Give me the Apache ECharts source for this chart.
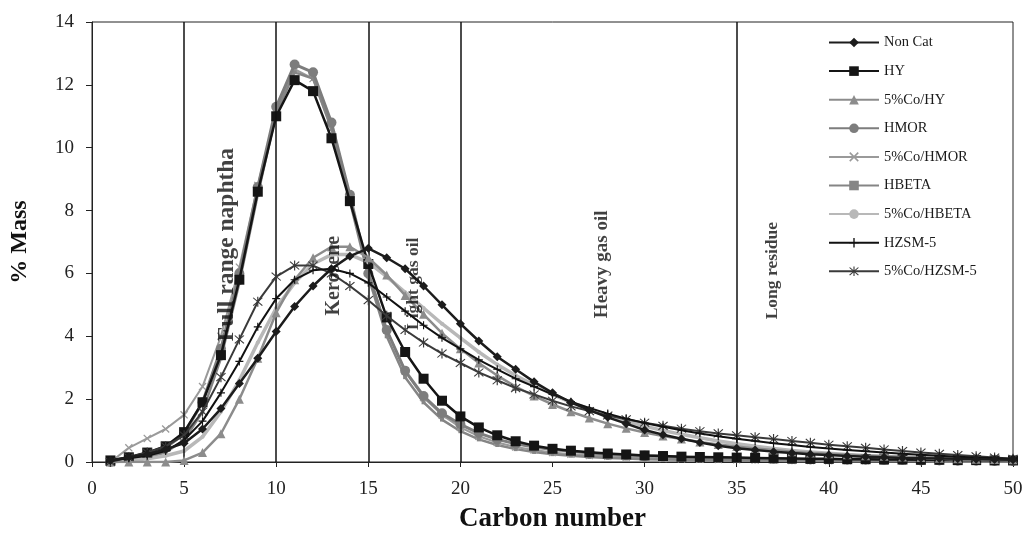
<!DOCTYPE html>
<html>
<head>
<meta charset="utf-8">
<script src="https://cdn.jsdelivr.net/npm/echarts@6/dist/echarts.min.js"></script>
<style>
html,body{margin:0;padding:0;background:#fff;}
#chart{width:1031px;height:538px;}
</style>
</head>
<body>
<div id="chart"></div>
<script>
// ---- data ----
const carbon = [1,2,3,4,5,6,7,8,9,10,11,12,13,14,15,16,17,18,19,20,21,22,23,24,25,26,27,28,29,30,31,32,33,34,35,36,37,38,39,40,41,42,43,44,45,46,47,48,49,50];

const nonCat = [0.05,0.15,0.25,0.4,0.6,1.05,1.7,2.5,3.3,4.15,4.95,5.6,6.15,6.55,6.8,6.5,6.15,5.6,5.0,4.4,3.85,3.35,2.95,2.55,2.2,1.9,1.65,1.42,1.22,1.02,0.87,0.74,0.62,0.52,0.44,0.38,0.33,0.29,0.25,0.22,0.19,0.17,0.15,0.13,0.12,0.11,0.1,0.09,0.08,0.07];
const hy = [0.05,0.15,0.3,0.5,0.95,1.9,3.4,5.8,8.6,11.0,12.15,11.8,10.3,8.3,6.3,4.6,3.5,2.65,1.95,1.45,1.1,0.85,0.66,0.52,0.42,0.36,0.31,0.27,0.24,0.21,0.19,0.17,0.16,0.15,0.14,0.13,0.12,0.11,0.1,0.1,0.09,0.09,0.08,0.08,0.07,0.07,0.06,0.06,0.05,0.05];
const coHy = [0,0,0,0,0.05,0.3,0.9,2.0,3.3,4.75,5.8,6.5,6.85,6.85,6.5,5.95,5.3,4.7,4.1,3.6,3.15,2.75,2.4,2.1,1.83,1.6,1.4,1.22,1.07,0.94,0.83,0.73,0.64,0.56,0.49,0.43,0.38,0.33,0.29,0.26,0.23,0.2,0.18,0.16,0.14,0.12,0.1,0.09,0.08,0.07];
const hmor = [0,0.1,0.25,0.45,0.9,1.9,3.6,6.0,8.75,11.3,12.65,12.4,10.8,8.5,6.0,4.2,2.9,2.1,1.55,1.2,0.92,0.72,0.58,0.48,0.4,0.34,0.29,0.25,0.22,0.2,0.18,0.16,0.14,0.13,0.12,0.11,0.1,0.09,0.08,0.08,0.07,0.07,0.06,0.06,0.05,0.05,0.04,0.04,0.03,0.03];
const coHmor = [0,0.45,0.75,1.05,1.5,2.4,4.0,6.2,8.8,11.2,12.5,12.2,10.6,8.4,6.1,4.2,2.9,2.05,1.5,1.1,0.82,0.62,0.48,0.38,0.3,0.25,0.21,0.18,0.15,0.13,0.11,0.1,0.09,0.08,0.07,0.06,0.06,0.05,0.05,0.04,0.04,0.04,0.03,0.03,0.03,0.03,0.02,0.02,0.02,0.02];
const hbeta = [0,0.05,0.15,0.3,0.7,1.6,3.3,5.7,8.5,11.1,12.4,12.2,10.6,8.3,5.9,4.0,2.7,1.9,1.35,0.98,0.72,0.54,0.41,0.32,0.25,0.2,0.16,0.13,0.11,0.09,0.08,0.07,0.06,0.05,0.05,0.04,0.04,0.03,0.03,0.03,0.02,0.02,0.02,0.02,0.02,0.01,0.01,0.01,0.01,0.01];
const coHbeta = [0,0.05,0.1,0.2,0.35,0.8,1.6,2.6,3.8,4.9,5.7,6.3,6.6,6.6,6.35,5.9,5.4,4.9,4.4,3.95,3.5,3.1,2.75,2.45,2.15,1.9,1.68,1.48,1.3,1.14,1.0,0.88,0.77,0.67,0.58,0.5,0.43,0.37,0.32,0.28,0.24,0.21,0.18,0.16,0.14,0.12,0.1,0.09,0.08,0.07];
const hzsm = [0.05,0.12,0.2,0.35,0.7,1.3,2.2,3.2,4.3,5.2,5.8,6.1,6.15,6.0,5.7,5.25,4.8,4.35,3.95,3.6,3.25,2.95,2.65,2.4,2.15,1.92,1.72,1.54,1.38,1.24,1.12,1.01,0.91,0.82,0.74,0.67,0.6,0.54,0.48,0.43,0.38,0.34,0.3,0.26,0.23,0.2,0.17,0.14,0.12,0.1];
const coHzsm = [0,0.15,0.3,0.5,0.85,1.6,2.7,3.9,5.1,5.9,6.25,6.25,6.0,5.6,5.15,4.65,4.2,3.8,3.45,3.15,2.85,2.6,2.35,2.15,1.95,1.77,1.62,1.48,1.36,1.25,1.15,1.06,0.98,0.91,0.85,0.79,0.73,0.67,0.61,0.55,0.5,0.45,0.4,0.35,0.3,0.26,0.22,0.18,0.14,0.1];

const seriesNames = ['Non Cat','HY','5%Co/HY','HMOR','5%Co/HMOR','HBETA','5%Co/HBETA','HZSM-5','5%Co/HZSM-5'];

const regionCuts = [5, 10, 15, 20, 35];
const regionLabels = ['Full range naphtha','Kerosene','Light gas oil','Heavy gas oil','Long residue'];
const regionLabelX = [7.31, 13.14, 17.46, 27.7, 36.94];
const regionLabelY = [6.92, 5.93, 5.67, 6.29, 6.09];

const xTicks = [0,5,10,15,20,25,30,35,40,45,50];
const yTicks = [0,2,4,6,8,10,12,14];

// ---- styles ----
const SERIF = 'Liberation Serif, Times New Roman, serif';
const STAR = 'path://M4.5,0h1v10h-1z M0.7,1.4L1.4,0.7L9.3,8.6L8.6,9.3z M8.6,0.7L9.3,1.4L1.4,9.3L0.7,8.6z';
const PLUS = 'path://M4.3,0h1.4v4.3h4.3v1.4h-4.3v4.3h-1.4v-4.3h-4.3v-1.4h4.3z';
const XMARK = 'path://M0.7,1.7L1.7,0.7L9.3,8.3L8.3,9.3z M8.3,0.7L9.3,1.7L1.7,9.3L0.7,8.3z';
const labelSizes = [23.5, 20, 17.5, 19, 17.5];

const styleList = [
  {color:'#1c1c1c', symbol:'diamond', size:9, width:2.5, z:9},
  {color:'#151515', symbol:'rect', size:10, width:2.5, z:4},
  {color:'#8c8c8c', symbol:'triangle', size:9, width:2.5, z:5},
  {color:'#7d7d7d', symbol:'circle', size:10, width:3, z:3},
  {color:'#9a9a9a', symbol:XMARK, size:8, width:2, z:2},
  {color:'#858585', symbol:'rect', size:4, width:2.5, z:2},
  {color:'#b8b8b8', symbol:'circle', size:4, width:3.5, z:4},
  {color:'#111111', symbol:PLUS, size:8, width:2, z:7},
  {color:'#3a3a3a', symbol:STAR, size:10, width:2, z:6}
];
const valueLists = [nonCat, hy, coHy, hmor, coHmor, hbeta, coHbeta, hzsm, coHzsm];

const lineSeries = seriesNames.map((name, i) => ({
  name: name,
  type: 'line',
  data: carbon.map((c, k) => [c, valueLists[i][k]]),
  symbol: styleList[i].symbol,
  symbolSize: styleList[i].size,
  showSymbol: true,
  z: styleList[i].z,
  itemStyle: {color: styleList[i].color, borderWidth: 0},
  lineStyle: {color: styleList[i].color, width: styleList[i].width},
  emphasis: {disabled: true}
}));

const cutSeries = {
  name: 'cuts',
  type: 'line',
  data: [],
  silent: true,
  z: 10,
  markLine: {
    silent: true,
    symbol: ['none','none'],
    label: {show: false},
    lineStyle: {color: '#111', width: 1.5, type: 'solid'},
    data: regionCuts.map(v => ({xAxis: v}))
  }
};

const labelSeries = {
  name: 'regions',
  type: 'scatter',
  symbolSize: 0,
  silent: true,
  z: 20,
  data: regionLabels.map((t, i) => ({
    name: t,
    value: [regionLabelX[i], regionLabelY[i]],
    label: {fontSize: labelSizes[i]}
  })),
  label: {
    show: true,
    position: 'inside',
    rotate: 90,
    formatter: p => p.name,
    fontFamily: SERIF,
    fontWeight: 'bold',
    fontSize: 20,
    color: '#111',
    align: 'center',
    verticalAlign: 'middle'
  }
};

const chart = echarts.init(document.getElementById('chart'), null, {renderer: 'canvas'});
chart.setOption({
  animation: false,
  backgroundColor: '#fff',
  grid: {left: 87, right: 18, top: 22, bottom: 70, show: true, borderColor: '#222', borderWidth: 1, backgroundColor: 'transparent'},
  legend: {
    data: seriesNames,
    orient: 'vertical',
    left: 828,
    top: 35,
    padding: 0,
    itemWidth: 50,
    itemHeight: 12,
    itemGap: 13.6,
    textStyle: {fontFamily: SERIF, fontSize: 14.5, color: '#1a1a1a', lineHeight: 13},
    selectedMode: false
  },
  xAxis: {
    type: 'value',
    min: xTicks[0],
    max: xTicks[xTicks.length - 1],
    interval: 5,
    name: 'Carbon number',
    nameLocation: 'middle',
    nameGap: 44,
    nameTextStyle: {fontFamily: SERIF, fontWeight: 'bold', fontSize: 27, color: '#111'},
    axisLine: {lineStyle: {color: '#222', width: 1}},
    axisTick: {show: true, length: 5, inside: false, lineStyle: {color: '#222'}},
    axisLabel: {fontFamily: SERIF, fontSize: 19, color: '#222', margin: 18},
    splitLine: {show: false}
  },
  yAxis: {
    type: 'value',
    min: yTicks[0],
    max: yTicks[yTicks.length - 1],
    interval: 2,
    name: '% Mass',
    nameLocation: 'middle',
    nameGap: 60,
    nameRotate: 90,
    nameTextStyle: {fontFamily: SERIF, fontWeight: 'bold', fontSize: 24, color: '#111'},
    axisLine: {show: true, lineStyle: {color: '#222', width: 1}},
    axisTick: {show: true, length: 6, lineStyle: {color: '#222'}},
    axisLabel: {fontFamily: SERIF, fontSize: 19, color: '#222', margin: 18},
    splitLine: {show: false}
  },
  series: [...lineSeries, cutSeries, labelSeries]
});
</script>
</body>
</html>
